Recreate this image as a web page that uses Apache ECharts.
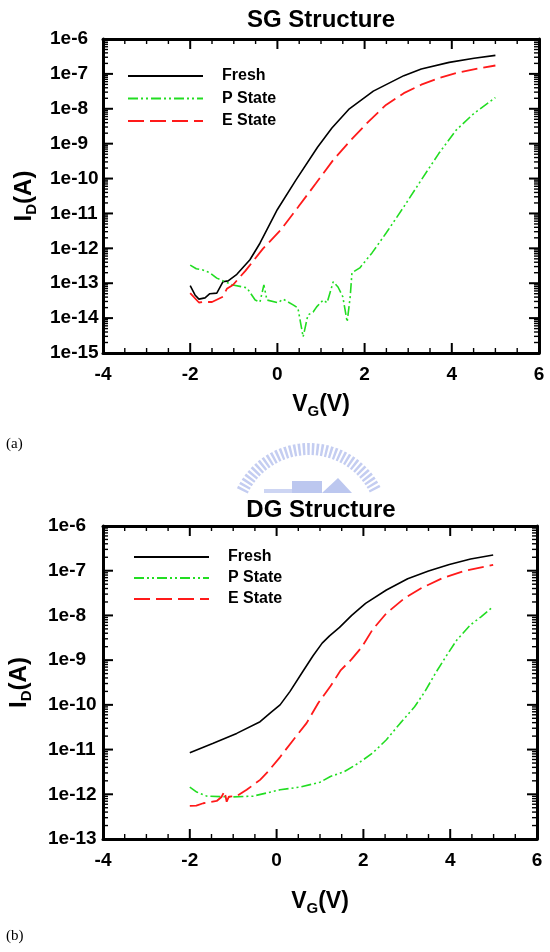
<!DOCTYPE html>
<html>
<head>
<meta charset="utf-8">
<script src="https://cdn.jsdelivr.net/npm/echarts@6/dist/echarts.min.js"></script>
<style>
html, body { margin: 0; padding: 0; background: #fff; }
#chart { width: 550px; height: 952px; }
</style>
</head>
<body>
<div id="chart"></div>
<script>
// (a) SG structure, gate voltage (V) and drain current (A)
var sgFreshV = [-2.0, -1.89, -1.80, -1.66, -1.55, -1.39, -1.25, -1.13, -0.93, -0.63, -0.40, 0.0, 0.42, 0.92, 1.25, 1.65, 2.2, 2.9, 3.3, 3.94, 4.51, 5.0];
var sgFreshI = [8.5e-14, 4.6e-14, 3.5e-14, 3.8e-14, 5.0e-14, 5.2e-14, 1.1e-13, 1.17e-13, 1.8e-13, 4.7e-13, 1.4e-12, 1.3e-11, 8.9e-11, 7.9e-10, 2.8e-9, 1.0e-8, 3.2e-8, 8.9e-8, 1.38e-7, 2.14e-7, 2.8e-7, 3.4e-7];

var sgPV = [-2.0, -1.86, -1.71, -1.55, -1.39, -1.25, -1.02, -0.70, -0.51, -0.40, -0.31, -0.24, 0.01, 0.13, 0.36, 0.47, 0.59, 0.70, 0.82, 0.90, 1.05, 1.14, 1.28, 1.39, 1.50, 1.60, 1.67, 1.71, 1.89, 2.17, 2.49, 2.90, 3.30, 3.70, 4.10, 4.51, 5.0];
var sgPI = [3.3e-13, 2.6e-13, 2.4e-13, 2.0e-13, 1.4e-13, 1.17e-13, 8.9e-14, 7.4e-14, 3.3e-14, 2.9e-14, 8.9e-14, 3.3e-14, 2.75e-14, 3.5e-14, 2.4e-14, 1.95e-14, 2.9e-15, 1.23e-14, 1.5e-14, 2.1e-14, 3.3e-14, 2.75e-14, 1.1e-13, 7.8e-14, 4.1e-14, 7.8e-15, 4.1e-14, 2.0e-13, 2.75e-13, 7.4e-13, 2.7e-12, 1.55e-11, 9.1e-11, 5.2e-10, 2.45e-9, 7.4e-9, 2.1e-8];

var sgEV = [-2.0, -1.80, -1.70, -1.50, -1.25, -1.16, -1.02, -0.73, -0.33, 0.07, 0.48, 0.88, 1.28, 1.69, 2.09, 2.49, 2.90, 3.30, 3.70, 4.10, 4.59, 5.0];
var sgEI = [5.2e-14, 2.8e-14, 2.9e-14, 2.9e-14, 4.1e-14, 6.9e-14, 8.9e-14, 2.3e-13, 9.8e-13, 3.3e-12, 1.55e-11, 7.2e-11, 3.4e-10, 1.29e-9, 4.3e-9, 1.29e-8, 2.8e-8, 4.9e-8, 7.6e-8, 1.05e-7, 1.41e-7, 1.74e-7];

// (b) DG structure
var dgFreshV = [-2.0, -1.46, -0.92, -0.38, -0.13, 0.08, 0.31, 0.60, 0.84, 1.05, 1.22, 1.45, 1.73, 2.05, 2.53, 3.02, 3.50, 3.98, 4.47, 4.99];
var dgFreshI = [8.5e-12, 1.38e-11, 2.3e-11, 4.2e-11, 6.8e-11, 1.0e-10, 2.0e-10, 5.5e-10, 1.25e-9, 2.4e-9, 3.5e-9, 5.4e-9, 1.0e-8, 1.86e-8, 3.7e-8, 6.6e-8, 9.8e-8, 1.38e-7, 1.82e-7, 2.24e-7];

var dgPV = [-2.0, -1.84, -1.61, -1.07, -0.54, 0.08, 0.54, 1.0, 1.24, 1.56, 1.89, 2.21, 2.53, 2.85, 3.18, 3.42, 3.66, 3.90, 4.15, 4.47, 4.71, 4.99];
var dgPI = [1.45e-12, 1.12e-12, 9.1e-13, 8.7e-13, 9.1e-13, 1.26e-12, 1.45e-12, 1.86e-12, 2.5e-12, 3.2e-12, 5.0e-12, 8.3e-12, 1.66e-11, 3.9e-11, 9.1e-11, 2.0e-10, 5.1e-10, 1.2e-9, 2.8e-9, 6.2e-9, 9.3e-9, 1.58e-8];

var dgEV = [-2.0, -1.85, -1.69, -1.38, -1.27, -1.20, -1.15, -1.10, -0.92, -0.69, -0.38, -0.20, 0.08, 0.38, 0.69, 0.96, 1.24, 1.48, 1.73, 1.97, 2.21, 2.53, 2.94, 3.34, 3.82, 4.31, 4.99];
var dgEI = [5.5e-13, 5.6e-13, 6.3e-13, 7.1e-13, 8.7e-13, 1.17e-12, 6.8e-13, 8.9e-13, 9.1e-13, 1.26e-12, 2.1e-12, 3.2e-12, 6.8e-12, 1.62e-11, 3.9e-11, 1.1e-10, 2.6e-10, 6.0e-10, 1.05e-9, 2.0e-9, 4.8e-9, 1.12e-8, 2.4e-8, 4.1e-8, 6.8e-8, 9.8e-8, 1.35e-7];

var seriesNames = ['Fresh', 'P State', 'E State'];

// axis ranges and tick positions
var xRange = [-4, 6];
var xMajorTicks = [-4, -2, 0, 2, 4, 6];
var sgDecades = [-15, -14, -13, -12, -11, -10, -9, -8, -7, -6];
var dgDecades = [-13, -12, -11, -10, -9, -8, -7, -6];
var minorMantissas = [2, 3, 4, 5, 6, 7, 8, 9];

var FONT = 'Liberation Sans, Arial, sans-serif';
var chart = echarts.init(document.getElementById('chart'));

function zip(xs, ys) {
  return xs.map(function (x, i) { return [x, ys[i]]; });
}

function logLabel(v) {
  return '1e' + Math.round(Math.log10(v));
}

// ticks as [x, y, isYTick, length]
function tickData(decades) {
  var ymin = Math.pow(10, decades[0]);
  var out = [];
  for (var t = xRange[0]; t <= xRange[1]; t += 0.5) {
    out.push([t, ymin, 0, xMajorTicks.indexOf(t) >= 0 ? 10 : 5]);
  }
  decades.forEach(function (e, i) {
    out.push([xRange[0], Math.pow(10, e), 1, 10]);
    if (i < decades.length - 1) {
      minorMantissas.forEach(function (m) { out.push([xRange[0], m * Math.pow(10, e), 1, 5]); });
    }
  });
  return out;
}

function tickSeries(grid, decades) {
  var yr = [Math.pow(10, decades[0]), Math.pow(10, decades[decades.length - 1])];
  return {
    type: 'custom', xAxisIndex: grid * 2, yAxisIndex: grid * 2, silent: true, clip: false, z: 5,
    data: tickData(decades),
    encode: { x: 0, y: 1 },
    renderItem: function (params, api) {
      var x = api.value(0), y = api.value(1), isY = api.value(2), len = api.value(3);
      var style = { stroke: '#000', lineWidth: len > 6 ? 2 : 1.4 };
      var a, b;
      if (isY) {
        a = api.coord([xRange[0], y]);
        b = api.coord([xRange[1], y]);
        return { type: 'group', children: [
          { type: 'line', shape: { x1: a[0], y1: a[1], x2: a[0] + len, y2: a[1] }, style: style },
          { type: 'line', shape: { x1: b[0], y1: b[1], x2: b[0] - len, y2: b[1] }, style: style }
        ] };
      }
      a = api.coord([x, yr[0]]);
      b = api.coord([x, yr[1]]);
      return { type: 'group', children: [
        { type: 'line', shape: { x1: a[0], y1: a[1], x2: a[0], y2: a[1] - len }, style: style },
        { type: 'line', shape: { x1: b[0], y1: b[1], x2: b[0], y2: b[1] + len }, style: style }
      ] };
    }
  };
}

function xAxisOf(grid, top, nameGap) {
  return {
    gridIndex: grid, type: 'value', min: xRange[0], max: xRange[1], interval: 2,
    position: top ? 'top' : 'bottom',
    name: top ? '' : '{a|V}{s|G}{a|(V)}',
    nameLocation: 'middle', nameGap: nameGap,
    nameTextStyle: {
      rich: {
        a: { fontFamily: FONT, fontWeight: 'bold', fontSize: 23, color: '#000', verticalAlign: 'bottom' },
        s: { fontFamily: FONT, fontWeight: 'bold', fontSize: 15, color: '#000', verticalAlign: 'bottom', padding: [0, 0, -3, 0] }
      }
    },
    axisLine: { show: true, onZero: false, lineStyle: { color: '#000', width: 3 } },
    axisTick: { show: false },
    minorTick: { show: false },
    axisLabel: { show: !top, margin: 12, color: '#000', fontFamily: FONT, fontWeight: 'bold', fontSize: 19 },
    splitLine: { show: false }
  };
}

function yAxisOf(grid, right, min, margin, nameGap) {
  return {
    gridIndex: grid, type: 'log', logBase: 10, min: min, max: 1e-6, interval: 1,
    position: right ? 'right' : 'left',
    name: right ? '' : '{a|I}{s|D}{a|(A)}',
    nameLocation: 'middle', nameGap: nameGap,
    nameTextStyle: {
      rich: {
        a: { fontFamily: FONT, fontWeight: 'bold', fontSize: 24, color: '#000', verticalAlign: 'bottom' },
        s: { fontFamily: FONT, fontWeight: 'bold', fontSize: 15, color: '#000', verticalAlign: 'bottom', padding: [0, 0, -3, 0] }
      }
    },
    axisLine: { show: true, onZero: false, lineStyle: { color: '#000', width: 3 } },
    axisTick: { show: false },
    minorTick: { show: false },
    axisLabel: {
      show: !right, margin: margin, align: 'left', color: '#000',
      fontFamily: FONT, fontWeight: 'bold', fontSize: 19, formatter: logLabel
    },
    splitLine: { show: false }
  };
}

var styles = {
  'Fresh': { color: '#000', width: 1.6, type: 'solid' },
  'P State': { color: '#22dd22', width: 1.6, type: [10, 3, 2, 3, 2, 3] },
  'E State': { color: '#ff1a1a', width: 1.8, type: [16, 6] }
};

function line(name, grid, xs, ys) {
  var s = styles[name];
  return {
    name: name, type: 'line', xAxisIndex: grid * 2, yAxisIndex: grid * 2,
    data: zip(xs, ys), symbol: 'none', showSymbol: false, silent: true,
    itemStyle: { color: s.color },
    lineStyle: { color: s.color, width: s.width, type: s.type }
  };
}

function legendOf(left, top, gap) {
  return {
    data: seriesNames, orient: 'vertical', left: left, top: top, padding: 0,
    itemWidth: 75, itemHeight: 14, itemGap: gap,
    itemStyle: { opacity: 0 },
    textStyle: { fontFamily: FONT, fontWeight: 'bold', fontSize: 16, color: '#000', padding: [0, 0, 0, 14] },
    selectedMode: false
  };
}

function titleOf(text, top) {
  return {
    text: text, left: 321, top: top, textAlign: 'center', padding: 0,
    textStyle: { fontFamily: FONT, fontWeight: 'bold', fontSize: 24, color: '#000' }
  };
}

var option = {
  animation: false,
  backgroundColor: '#fff',
  title: [titleOf('SG Structure', 8), titleOf('DG Structure', 498)],
  legend: [legendOf(127, 68, 6.5), legendOf(133, 549, 5)],
  grid: [
    { left: 103, top: 39, width: 436, height: 314, outerBoundsMode: 'none', containLabel: false },
    { left: 103, top: 526, width: 434, height: 313, outerBoundsMode: 'none', containLabel: false }
  ],
  xAxis: [xAxisOf(0, false, 40), xAxisOf(0, true, 0), xAxisOf(1, false, 51), xAxisOf(1, true, 0)],
  yAxis: [yAxisOf(0, false, 1e-15, 53, 58), yAxisOf(0, true, 1e-15, 0, 0), yAxisOf(1, false, 1e-13, 55, 72), yAxisOf(1, true, 1e-13, 0, 0)],
  series: [
    line('Fresh', 0, sgFreshV, sgFreshI),
    line('P State', 0, sgPV, sgPI),
    line('E State', 0, sgEV, sgEI),
    line('Fresh', 1, dgFreshV, dgFreshI),
    line('P State', 1, dgPV, dgPI),
    line('E State', 1, dgEV, dgEI),
    tickSeries(0, sgDecades),
    tickSeries(1, dgDecades)
  ],
  graphic: [
    { type: 'text', left: 6, top: 437, style: { text: '(a)', font: '15px "Liberation Serif", serif', fill: '#000' } },
    { type: 'text', left: 6, top: 929, style: { text: '(b)', font: '15px "Liberation Serif", serif', fill: '#000' } },
    // faint watermark logo between the panels
    { type: 'arc', silent: true, shape: { cx: 309, cy: 523, r: 74, startAngle: Math.PI + 0.45, endAngle: 2 * Math.PI - 0.45 },
      style: { stroke: '#c4cdf1', lineWidth: 12, lineDash: [2.5, 2], fill: null } },
    { type: 'rect', silent: true, shape: { x: 264, y: 489, width: 28, height: 4 }, style: { fill: '#cdd5f3' } },
    { type: 'rect', silent: true, shape: { x: 292, y: 481, width: 30, height: 12 }, style: { fill: '#bcc7ef' } },
    { type: 'polygon', silent: true, shape: { points: [[322, 493], [338, 478], [352, 493]] }, style: { fill: '#bcc7ef' } }
  ]
};

chart.setOption(option);
</script>
</body>
</html>
